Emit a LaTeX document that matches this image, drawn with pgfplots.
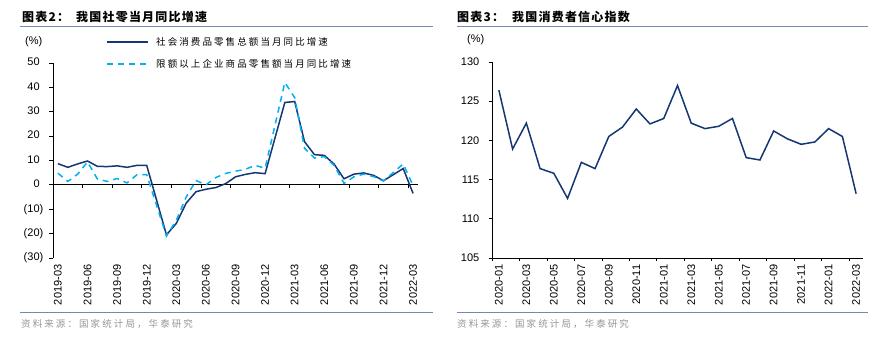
\documentclass[border=0pt]{standalone}
\usepackage{pgfplots}
\pgfplotsset{compat=1.18}
\usepackage{fontspec}
\setmainfont{Liberation Sans}
\newfontfamily\cjk[LetterSpace=22]{Noto Sans CJK SC}
\newfontfamily\cjkt[LetterSpace=10]{Noto Sans CJK SC}
\definecolor{navy}{RGB}{20,55,115}
\definecolor{lblue}{RGB}{0,176,240}
\definecolor{sepblue}{RGB}{112,138,178}
\definecolor{srcgray}{RGB}{150,150,150}
\newcommand{\tf}{\fontsize{11pt}{12pt}\selectfont}
\begin{document}
\begin{tikzpicture}[x=1pt,y=1pt]
% left zero line with ticks
\begin{axis}[at={(53pt,94pt)}, anchor=south west, scale only axis, width=365pt, height=195pt,
  xmin=-0.5, xmax=36.5, ymin=-30, ymax=50,
  axis x line*=middle, axis y line=none,
  xtick={2.5,5.5,...,35.5}, xticklabels={}, ytick=\empty,
  tick align=outside, major tick length=3.5pt,
  axis line style={black, line width=0.8pt}, tick style={black, line width=0.8pt}]
\end{axis}

% left chart
\begin{axis}[at={(53pt,94pt)}, anchor=south west, scale only axis, width=365pt, height=195pt,
  xmin=-0.5, xmax=36.5, ymin=-30, ymax=50,
  /pgf/number format/assume math mode=true,
  axis y line*=left, axis x line*=bottom, x axis line style={draw=none},
  axis line style={black, line width=0.8pt},
  tick style={black, line width=0.8pt}, major x tick style={draw=none},
  tick align=outside, major tick length=3.5pt,
  xtick={0,3,...,36},
  xticklabels={2019-03,2019-06,2019-09,2019-12,2020-03,2020-06,2020-09,2020-12,2021-03,2021-06,2021-09,2021-12,2022-03},
  xticklabel style={yshift=-3pt, rotate=90, anchor=east, font=\tf, inner sep=0pt},
  ytick={-30,-20,...,50},
  yticklabels={(30),(20),(10),0\phantom{)},10\phantom{)},20\phantom{)},30\phantom{)},40\phantom{)},50\phantom{)}},
  yticklabel style={font=\tf, anchor=east, inner sep=0pt, xshift=-6pt},
  clip=false
]
\addplot[navy, line width=1.5pt] coordinates {
(0,8.7)(1,7.2)(2,8.6)(3,9.8)(4,7.6)(5,7.5)(6,7.8)(7,7.2)(8,8.0)(9,8.0)
(11,-20.5)(12,-15.8)(13,-7.5)(14,-2.8)(15,-1.8)(16,-1.1)(17,0.5)(18,3.3)(19,4.3)(20,5.0)(21,4.6)
(23,33.8)(24,34.2)(25,17.7)(26,12.4)(27,12.1)(28,8.5)(29,2.5)(30,4.4)(31,4.9)(32,3.9)(33,1.7)
(35,6.7)(36,-3.5)};
\addplot[lblue, line width=1.5pt, dash pattern=on 6pt off 5pt] coordinates {
(0,4.8)(1,1.4)(2,4.4)(3,9.4)(4,2.4)(5,1.4)(6,2.6)(7,0.8)(8,4.1)(9,4.2)
(11,-21.0)(12,-14.5)(13,-5.0)(14,1.8)(15,0.0)(16,3.0)(17,4.7)(18,5.6)(19,6.4)(20,8.0)(21,6.8)
(23,42.0)(24,35.8)(25,15.0)(26,11.0)(27,11.6)(28,8.0)(29,0.6)(30,3.3)(31,4.4)(32,3.4)(33,1.6)
(35,8.6)(36,-0.3)};
\end{axis}

% right chart
\begin{axis}[at={(492pt,94pt)}, anchor=south west, scale only axis, width=371pt, height=196pt,
  xmin=-0.5, xmax=26.5, ymin=105, ymax=130,
  /pgf/number format/assume math mode=true,
  axis y line*=left, axis x line*=bottom,
  axis line style={black, line width=0.8pt},
  tick style={black, line width=0.8pt}, major x tick style={draw=none},
  tick align=outside, major tick length=3.5pt, minor tick length=3.5pt,
  xtick={0,2,...,26},
  minor xtick={-0.5,1.5,...,25.5},
  xticklabels={2020-01,2020-03,2020-05,2020-07,2020-09,2020-11,2021-01,2021-03,2021-05,2021-07,2021-09,2021-11,2022-01,2022-03},
  xticklabel style={yshift=-3pt, rotate=90, anchor=east, font=\tf, inner sep=0pt},
  ytick={105,110,...,130},
  yticklabel style={font=\tf, anchor=east, inner sep=0pt, xshift=-9pt},
  clip=false
]
\addplot[navy, line width=1.5pt] coordinates {
(0,126.4)(1,118.9)(2,122.2)(3,116.4)(4,115.8)(5,112.6)(6,117.2)(7,116.4)(8,120.5)(9,121.7)(10,124.0)(11,122.1)
(12,122.8)(13,127.0)(14,122.2)(15,121.5)(16,121.8)(17,122.8)(18,117.8)(19,117.5)(20,121.2)(21,120.2)(22,119.5)(23,119.8)
(24,121.5)(25,120.5)(26,113.2)};
\end{axis}

% legend (left chart)
\draw[navy, line width=1.6pt] (107,310) -- (148,310);
\draw[lblue, line width=1.6pt, dash pattern=on 6pt off 5pt] (107,288) -- (148,288);
\node[anchor=west,inner sep=0] at (156,310) {\cjk\fontsize{9.5pt}{10pt}\selectfont 社会消费品零售总额当月同比增速};
\node[anchor=west,inner sep=0] at (156,288) {\cjk\fontsize{9.5pt}{10pt}\selectfont 限额以上企业商品零售额当月同比增速};

% titles
\node[anchor=west,inner sep=0] at (22,335) {\cjkt\bfseries\fontsize{12pt}{13pt}\selectfont 图表2：};
\node[anchor=west,inner sep=0] at (76,335) {\cjkt\bfseries\fontsize{12pt}{13pt}\selectfont 我国社零当月同比增速};
\node[anchor=west,inner sep=0] at (457,335) {\cjkt\bfseries\fontsize{12pt}{13pt}\selectfont 图表3：};
\node[anchor=west,inner sep=0] at (512,335) {\cjkt\bfseries\fontsize{12pt}{13pt}\selectfont 我国消费者信心指数};
\draw[sepblue,line width=1pt] (20,325) -- (433,325);
\draw[sepblue,line width=1pt] (457,325) -- (868,325);
\draw[sepblue,line width=1pt] (20,39) -- (433,39);
\draw[sepblue,line width=1pt] (457,39) -- (868,39);
\node[anchor=west,inner sep=0,text=srcgray] at (21,28) {\cjk\fontsize{9.5pt}{10pt}\selectfont 资料来源：国家统计局，华泰研究};
\node[anchor=west,inner sep=0,text=srcgray] at (457,28) {\cjk\fontsize{9.5pt}{10pt}\selectfont 资料来源：国家统计局，华泰研究};
\node[anchor=west,inner sep=0] at (25,310) {\tf (\%)};
\node[anchor=west,inner sep=0] at (467,312) {\tf (\%)};
\pgfresetboundingbox
\path[use as bounding box] (0,0) rectangle (895,352);
\end{tikzpicture}
\end{document}
